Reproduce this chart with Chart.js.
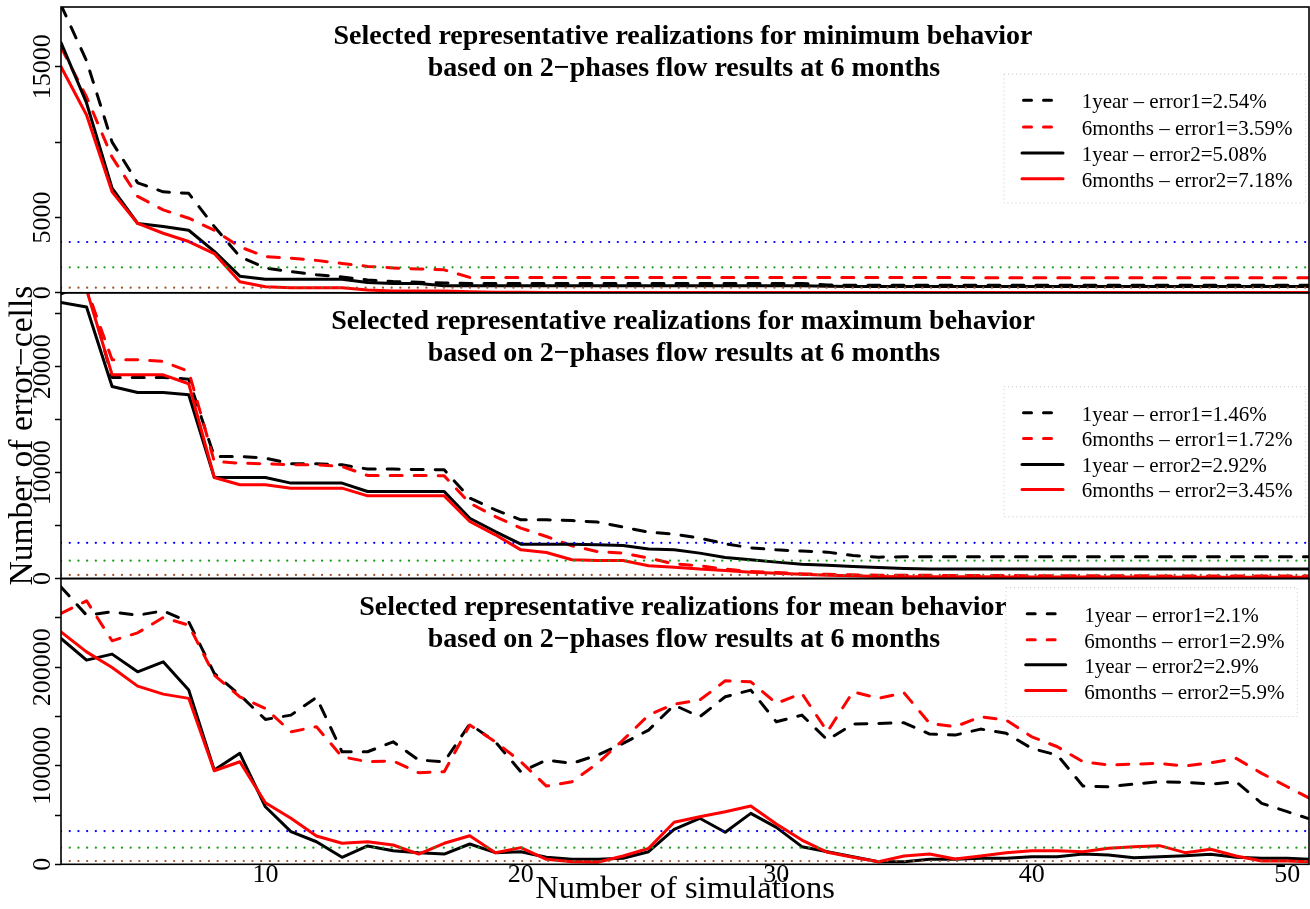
<!DOCTYPE html>
<html>
<head>
<meta charset="utf-8">
<title>Number of error-cells vs number of simulations</title>
<script src="https://cdn.jsdelivr.net/npm/chart.js@4.4.1/dist/chart.umd.min.js"></script>
<style>
  html, body { margin: 0; padding: 0; background: #ffffff; }
  #wrap { width: 1310px; height: 909px; }
</style>
</head>
<body>
<div id="wrap"><canvas id="chart" width="1310" height="909"></canvas></div>
<script>
// ---- data -------------------------------------------------------------
const simulations = [2,3,4,5,6,7,8,9,10,11,12,13,14,15,16,17,18,19,20,21,22,23,24,25,26,
  27,28,29,30,31,32,33,34,35,36,37,38,39,40,41,42,43,44,45,46,47,48,49,50,51];

// minimum behavior
const minYear1Err1 = [19100,15400,10000,7300,6700,6600,4400,2400,1650,1400,1200,1050,850,750,700,650,
  620,620,620,620,620,620,620,620,620,620,620,620,620,620,520,500,500,500,500,500,500,500,500,500,
  500,500,500,500,500,500,500,500,500,500];
const minMonth6Err1 = [16300,13000,9000,6400,5500,4950,4150,3050,2400,2300,2150,1950,1750,1650,1580,1520,
  1020,1020,1020,1020,1020,1020,1020,1020,1020,1020,1020,1020,1020,1020,1010,1010,1010,1010,1010,1010,
  1000,1000,1000,1000,1000,1000,1000,1000,1000,1000,1000,1000,1000,1000];
const minYear1Err2 = [16600,12600,6950,4600,4400,4150,2750,1100,900,900,900,900,680,620,620,470,
  460,460,460,460,460,460,460,460,460,460,460,460,460,460,430,420,420,420,420,420,420,420,420,420,
  420,420,420,420,420,420,420,420,420,420];
const minMonth6Err2 = [15000,11800,6700,4600,3950,3400,2600,730,400,330,330,330,180,110,110,110,
  60,40,30,20,20,20,20,20,20,20,20,20,20,20,20,20,20,20,20,20,20,20,20,20,20,20,20,20,20,20,20,20,20,20];

// maximum behavior
const maxYear1Err1 = [26900,27800,19000,19000,19000,18840,11530,11530,11380,10840,10840,10745,10340,10340,10300,10270,
  7600,6490,5550,5550,5480,5330,4860,4380,4195,3820,3280,2900,2710,2590,2495,2170,2020,2050,2050,2050,
  2050,2050,2050,2050,2050,2050,2050,2050,2050,2050,2050,2050,2050,2050];
const maxMonth6Err1 = [29000,27400,20670,20670,20510,19560,11060,10900,10840,10745,10745,10590,9740,9740,9740,9700,
  7125,5860,4760,3970,3090,2550,2400,1930,1390,1200,890,660,570,440,400,350,320,300,300,290,
  280,280,270,270,260,260,260,250,250,250,250,250,250,250];
const maxYear1Err2 = [26080,25650,18140,17580,17580,17360,9545,9545,9545,9015,9015,9015,8220,8220,8220,8220,
  5700,4440,3250,3250,3250,3200,3120,2780,2710,2400,1985,1770,1550,1360,1265,1135,1040,950,900,900,
  900,900,900,900,900,900,900,900,900,900,900,900,900,900];
const maxMonth6Err2 = [29000,27300,19250,19250,19250,18400,9545,8855,8855,8540,8540,8540,7815,7815,7815,7815,
  5390,4130,2710,2460,1770,1700,1700,1200,1075,890,760,600,510,415,320,255,190,170,170,160,
  160,150,150,150,140,140,140,140,130,130,130,130,130,130];

// mean behavior
const meanYear1Err1 = [281500,252800,256200,252800,257200,246000,193700,171700,147000,151400,
  169400,114200,114200,124300,105800,104100,142300,124300,93900,105800,
  102400,110800,122700,136200,161600,149700,170000,176800,144600,151400,
  126100,142300,143000,143600,132200,131100,137200,132900,117600,110800,
  79400,78700,81400,83800,83200,81400,83800,61900,53400,45000];
const meanMonth6Err1 = [254600,267400,226800,234900,250500,242700,192000,170000,158200,134500,
  139600,109100,104100,104800,92900,93900,141300,124300,104100,79400,
  83800,102400,126100,151400,162600,166600,186200,185200,163300,173400,
  134500,175100,168400,174000,143000,139600,149700,146300,129400,119300,
  104100,100700,101700,102400,99700,103000,107500,92300,78700,65200];
const meanYear1Err2 = [229200,207200,213300,195300,205500,176800,95600,112600,58400,33100,
  22900,7100,18600,13800,11800,10400,20600,11800,12800,7100,
  5100,5100,6100,12800,35500,46700,32500,51700,37500,17900,
  12800,7700,2600,2600,5100,5100,6100,6100,7700,7700,
  10400,9400,6700,7700,8700,10100,7100,6100,6100,5100];
const meanMonth6Err2 = [235900,215600,199800,180800,172700,168400,94900,104100,62500,46700,
  28700,21300,22900,19600,10400,21300,29000,11800,16900,5100,
  2600,2000,8400,16200,42600,48300,53400,59100,40900,24600,
  12200,7100,2600,8400,10400,5400,8400,11800,13800,13800,
  12800,16200,17900,18900,11800,15200,8400,3300,3300,2600];

// threshold levels (blue, green, brown)
const thresholdsSmall = [3370, 1690, 340];
const thresholdsLarge = [33700, 16900, 3370];

// legend texts
const minLegend  = ['1year – error1=2.54%', '6months – error1=3.59%', '1year – error2=5.08%', '6months – error2=7.18%'];
const maxLegend  = ['1year – error1=1.46%', '6months – error1=1.72%', '1year – error2=2.92%', '6months – error2=3.45%'];
const meanLegend = ['1year – error1=2.1%',  '6months – error1=2.9%',  '1year – error2=2.9%',  '6months – error2=5.9%'];

// panel titles
const minTitle  = ['Selected representative realizations for minimum behavior', 'based on 2−phases flow results at 6 months'];
const maxTitle  = ['Selected representative realizations for maximum behavior', 'based on 2−phases flow results at 6 months'];
const meanTitle = ['Selected representative realizations for mean behavior',    'based on 2−phases flow results at 6 months'];

// axis ticks and labels
const xTickValues   = [10, 20, 30, 40, 50];
const minTicks      = [0, 5000, 10000, 15000];
const minTickLabels = [0, 5000, 15000];
const maxTicks      = [0, 5000, 10000, 15000, 20000, 25000];
const maxTickLabels = [0, 10000, 20000];
const meanTicks     = [0, 50000, 100000, 150000, 200000, 250000];
const meanTickLabels= [0, 100000, 200000];

// ---- styling ----------------------------------------------------------
const SERIF = '"Liberation Serif", "Times New Roman", serif';
const seriesStyles = [
  { color: '#000000', dash: [12, 12], order: 4 },
  { color: '#ff0000', dash: [12, 12], order: 3 },
  { color: '#000000', dash: [],       order: 2 },
  { color: '#ff0000', dash: [],       order: 1 }
];
const thresholdColors = ['#0000ff', '#1a9e1a', '#a0522d'];

const pts = vals => vals.map((v, i) => ({ x: simulations[i], y: v }));
const flat = v => [{ x: simulations[0], y: v }, { x: simulations[simulations.length - 1], y: v }];

const panels = [
  { axis: 'yMin',  series: [minYear1Err1, minMonth6Err1, minYear1Err2, minMonth6Err2],
    legend: minLegend, title: minTitle, thresholds: thresholdsSmall,
    box: { l: -305, r: -3.3, t: 67, b: 196, s0: -287, s1: -246, tx: -227.3, rows: [101.3, 128, 154, 179.7] } },
  { axis: 'yMax',  series: [maxYear1Err1, maxMonth6Err1, maxYear1Err2, maxMonth6Err2],
    legend: maxLegend, title: maxTitle, thresholds: thresholdsSmall,
    box: { l: -305, r: -3.3, t: 94, b: 224, s0: -287, s1: -246, tx: -227.3, rows: [128, 153.7, 179.7, 204.7] } },
  { axis: 'yMean', series: [meanYear1Err1, meanMonth6Err1, meanYear1Err2, meanMonth6Err2],
    legend: meanLegend, title: meanTitle, thresholds: thresholdsLarge,
    box: { l: -303, r: -11.7, t: 9, b: 138, s0: -283.3, s1: -243.3, tx: -224.7, rows: [43.3, 69.3, 94.3, 120] } }
];

const datasets = [];
panels.forEach(p => {
  p.series.forEach((vals, k) => {
    const st = seriesStyles[k];
    datasets.push({
      label: p.legend[k], data: pts(vals), yAxisID: p.axis, xAxisID: 'x',
      borderColor: st.color, backgroundColor: st.color, borderWidth: 3,
      borderDash: st.dash, borderCapStyle: 'round', borderJoinStyle: 'round',
      pointRadius: 0, tension: 0, fill: false, order: st.order
    });
  });
  p.thresholds.forEach((v, k) => {
    datasets.push({
      label: '', data: flat(v), yAxisID: p.axis, xAxisID: 'x', isThreshold: true,
      borderColor: thresholdColors[k], borderWidth: 2.2, borderDash: [0.1, 8.6],
      borderCapStyle: 'round', pointRadius: 0, fill: false, order: 0
    });
  });
});

function yScale(max, ticks, labels, weight, pad, title) {
  return {
    type: 'linear', position: 'left', stack: 'panels', stackWeight: 1, weight: weight,
    min: 0, max: max, offset: false,
    afterBuildTicks: s => { s.ticks = ticks.map(v => ({ value: v })); },
    afterFit: s => { s.width = 61; s.paddingTop = 0; s.paddingBottom = 0; },
    ticks: {
      autoSkip: false, minRotation: 90, maxRotation: 90, crossAlign: 'center', padding: pad,
      color: '#000', font: { family: SERIF, size: 26 },
      callback: v => labels.includes(v) ? String(v) : ''
    },
    grid: { drawOnChartArea: false, drawTicks: true, tickLength: 6, tickColor: '#000', tickWidth: 1.5 },
    border: { display: false },
    title: title ? {
      display: true, text: title, color: '#000',
      font: { family: SERIF, size: 33.5, lineHeight: 1.2 }, padding: { top: 3, bottom: 0 }
    } : { display: false }
  };
}

// per-panel clipping, frames, titles and legends
const panelDecor = {
  id: 'panelDecor',
  beforeDatasetDraw(chart, args) {
    const ds = chart.data.datasets[args.index];
    const s = chart.scales[ds.yAxisID];
    const a = chart.chartArea;
    const ctx = chart.ctx;
    ctx.save();
    ctx.beginPath();
    ctx.rect(a.left, s.top, a.right - a.left, s.bottom - s.top);
    ctx.clip();
  },
  afterDatasetDraw(chart) { chart.ctx.restore(); },
  afterDraw(chart) {
    const ctx = chart.ctx;
    const a = chart.chartArea;
    const cx = (a.left + a.right) / 2;
    panels.forEach(p => {
      const s = chart.scales[p.axis];
      // frame
      ctx.save();
      ctx.strokeStyle = '#000'; ctx.lineWidth = 1.6;
      ctx.strokeRect(a.left, s.top, a.right - a.left, s.bottom - s.top);
      // title
      ctx.fillStyle = '#000';
      ctx.font = 'bold 28px ' + SERIF;
      ctx.textAlign = 'center'; ctx.textBaseline = 'alphabetic';
      ctx.fillText(p.title[0], cx - 2, s.top + 36.5);
      ctx.fillText(p.title[1], cx - 1, s.top + 68.5);
      // legend box
      const b = p.box;
      ctx.fillStyle = '#fff';
      ctx.fillRect(a.right + b.l, s.top + b.t, b.r - b.l, b.b - b.t);
      ctx.strokeStyle = '#c8c8c8'; ctx.lineWidth = 1; ctx.setLineDash([1, 3]);
      ctx.strokeRect(a.right + b.l, s.top + b.t, b.r - b.l, b.b - b.t);
      ctx.setLineDash([]);
      // legend rows
      const items = chart.data.datasets.filter(d => d.yAxisID === p.axis && !d.isThreshold);
      items.forEach((d, k) => {
        const y = s.top + b.rows[k];
        ctx.strokeStyle = d.borderColor; ctx.lineWidth = 3; ctx.lineCap = 'round';
        const dashed = d.borderDash && d.borderDash.length;
        ctx.setLineDash(dashed ? [8, 12] : []);
        ctx.beginPath();
        ctx.moveTo(a.right + b.s0 + (dashed ? 1.5 : 0), y - 8);
        ctx.lineTo(a.right + b.s1, y - 8);
        ctx.stroke();
        ctx.setLineDash([]);
        ctx.fillStyle = '#000';
        ctx.font = '21px ' + SERIF;
        ctx.textAlign = 'left'; ctx.textBaseline = 'alphabetic';
        ctx.fillText(d.label, a.right + b.tx, y);
      });
      ctx.restore();
    });
  }
};

new Chart(document.getElementById('chart'), {
  type: 'line',
  data: { datasets: datasets },
  plugins: [panelDecor],
  options: {
    responsive: false, animation: false, devicePixelRatio: 1,
    layout: { padding: { left: 0, right: 1, top: 7, bottom: 0 } },
    plugins: { legend: { display: false }, tooltip: { enabled: false }, title: { display: false } },
    elements: { line: { tension: 0 } },
    scales: {
      x: {
        type: 'linear', position: 'bottom', min: 2, max: 50.85,
        afterBuildTicks: s => { s.ticks = xTickValues.map(v => ({ value: v })); },
        afterFit: s => { s.height = 44.7; s.paddingLeft = 0; s.paddingRight = 0; },
        ticks: { autoSkip: false, maxRotation: 0, padding: -5, color: '#000',
                 font: { family: SERIF, size: 26, lineHeight: 1.2 } },
        grid: { display: false, drawTicks: false },
        border: { display: false },
        title: { display: true, text: 'Number of simulations', color: '#000',
                 font: { family: SERIF, size: 32.5, lineHeight: 1.2 }, padding: { top: 0, bottom: 0 } }
      },
      yMin:  yScale(18970,  minTicks,  minTickLabels,  3, -20.8, null),
      yMax:  yScale(27000,  maxTicks,  maxTickLabels,  2, -20.8, 'Number of error−cells'),
      yMean: yScale(290000, meanTicks, meanTickLabels, 1, -27.3, null)
    }
  }
});
</script>
</body>
</html>
